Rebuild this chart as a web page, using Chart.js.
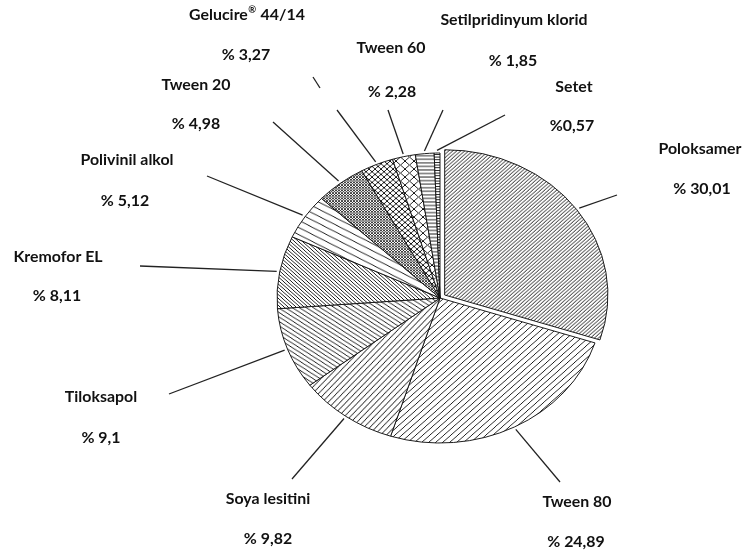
<!DOCTYPE html>
<html><head><meta charset="utf-8">
<script src="https://cdn.jsdelivr.net/npm/chart.js@4/dist/chart.umd.min.js"></script>
<style>html,body{margin:0;padding:0;background:#fff}#wrap{width:752px;height:553px;position:relative}</style>
</head><body><div id="wrap"><canvas id="c" width="752" height="553"></canvas></div>
<script>
// ---- data ----
const categories = ['Poloksamer','Tween 80','Soya lesitini','Tiloksapol','Kremofor EL','Polivinil alkol','Tween 20','Gelucire\u00AE 44/14','Tween 60','Setilpridinyum klorid','Setet'];
const shares = [30.01,24.89,9.82,9.1,8.11,5.12,4.98,3.27,2.28,1.85,0.57];
const shareLabels = ['% 30,01','% 24,89','% 9,82','% 9,1','% 8,11','% 5,12','% 4,98','% 3,27','% 2,28','% 1,85','%0,57'];

// ---- layout (label placement, not data) ----
const namePos = [[700,149],[577,502],[268,499],[101,397],[58,257],[127,160],[196,85],[247,15],[391,48],[514,20],[574,87]];
const pctPos  = [[702,189],[576,542],[268,539],[101,438],[57,296],[125,201],[196,124],[246,55],[392,92],[513,61],[572,126]];
const lineEnd = [[617,195],[560,482],[292,479],[169,394],[140,266],[207,176],[273,122],[337,110],[388,110],[443,110],[505,115]];
const yScale = 145/163;
const textScaleX = 1.06;
const fontSize = 15;

function hatch(kind, s, lw, wMul) {
  const c = document.createElement('canvas');
  const w = Math.round(s*(wMul||1)), h = s;
  c.width = w; c.height = h;
  const g = c.getContext('2d');
  g.fillStyle = '#fff'; g.fillRect(0,0,w,h);
  g.strokeStyle = '#111'; g.lineWidth = lw;
  g.beginPath();
  const fwd = () => { for (const dx of [-w,0,w]) { g.moveTo(dx-w,2*h); g.lineTo(dx+2*w,-h); } };
  const back = () => { for (const dx of [-w,0,w]) { g.moveTo(dx-w,-h); g.lineTo(dx+2*w,2*h); } };
  if (kind==='fwd') fwd();
  if (kind==='back') back();
  if (kind==='cross') { fwd(); back(); }
  if (kind==='horiz') { g.moveTo(0,h/2); g.lineTo(w,h/2); }
  g.stroke();
  return g.createPattern(c,'repeat');
}
const ctx = document.getElementById('c').getContext('2d');
const fills = [
  hatch('fwd',4,1),
  hatch('fwd',7,1),
  hatch('fwd',7,1,0.8),
  hatch('back',5,1,1.4),
  hatch('back',4,1),
  hatch('back',8,1,1.7),
  hatch('cross',3,0.8),
  hatch('cross',6,1),
  hatch('cross',9,1),
  hatch('horiz',4,1),
  hatch('horiz',3,1)
];

const ellipsePlugin = {
  id:'ellipse',
  beforeDatasetsDraw(chart){
    const a = chart.chartArea, c = chart.ctx;
    const cx=(a.left+a.right)/2, cy=(a.top+a.bottom)/2;
    c.save(); c.translate(cx,cy); c.scale(1,yScale); c.translate(-cx,-cy);
  },
  afterDatasetsDraw(chart){ chart.ctx.restore(); }
};
const labelPlugin = {
  id:'labels',
  afterDraw(chart){
    const c = chart.ctx;
    const meta = chart.getDatasetMeta(0);
    const a = chart.chartArea;
    const cy=(a.top+a.bottom)/2;
    c.save();
    c.strokeStyle='#222'; c.lineWidth=1.3;
    meta.data.forEach((arc,i)=>{
      const p = arc.getProps(['x','y','startAngle','endAngle','outerRadius'],true);
      const mid=(p.startAngle+p.endAngle)/2;
      const off = (chart.data.datasets[0].offset[i]||0)/4*1.05;
      const r = p.outerRadius+3;
      const sx = p.x + Math.cos(mid)*(r+off);
      const sy = cy + Math.sin(mid)*(r+off)*yScale;
      c.beginPath(); c.moveTo(sx,sy); c.lineTo(lineEnd[i][0],lineEnd[i][1]); c.stroke();
    });
    // broken upper piece of the Gelucire leader line
    c.beginPath(); c.moveTo(313,77); c.lineTo(320,88); c.stroke();
    c.fillStyle='#111';
    c.textBaseline='middle';
    const big = 'bold '+fontSize+'px Lato', small = 'bold '+Math.round(fontSize*0.6)+'px Lato';
    const put=(t,x,y)=>{
      c.save(); c.translate(x,y); c.scale(textScaleX,1);
      const parts = t.split('\u00AE');
      c.font=big; const w0=c.measureText(parts[0]).width;
      let wR=0, w1=0;
      if(parts.length>1){ c.font=small; wR=c.measureText('\u00AE').width+1; c.font=big; w1=c.measureText(parts[1]).width; }
      let xx = -(w0+wR+w1)/2;
      c.textAlign='left';
      c.font=big; c.fillText(parts[0],xx,0); xx+=w0;
      if(parts.length>1){ c.font=small; c.fillText('\u00AE',xx+0.5,-fontSize*0.3); xx+=wR; c.font=big; c.fillText(parts[1],xx,0); }
      c.restore();
    };
    categories.forEach((n,i)=>{ put(n,namePos[i][0],namePos[i][1]); put(shareLabels[i],pctPos[i][0],pctPos[i][1]); });
    c.restore();
  }
};

new Chart(ctx,{
  type:'pie',
  data:{labels:categories,datasets:[{
    data:shares,
    backgroundColor:fills,
    borderColor:'#111',
    borderWidth:1,
    radius:163,
    offset:[23,0,0,0,0,0,0,0,0,0,0],
    hoverOffset:0
  }]},
  options:{
    responsive:false,animation:false,events:[],
    layout:{padding:{left:128,top:43,right:0,bottom:0}},
    plugins:{legend:{display:false},tooltip:{enabled:false}}
  },
  plugins:[ellipsePlugin,labelPlugin]
});
</script></body></html>
